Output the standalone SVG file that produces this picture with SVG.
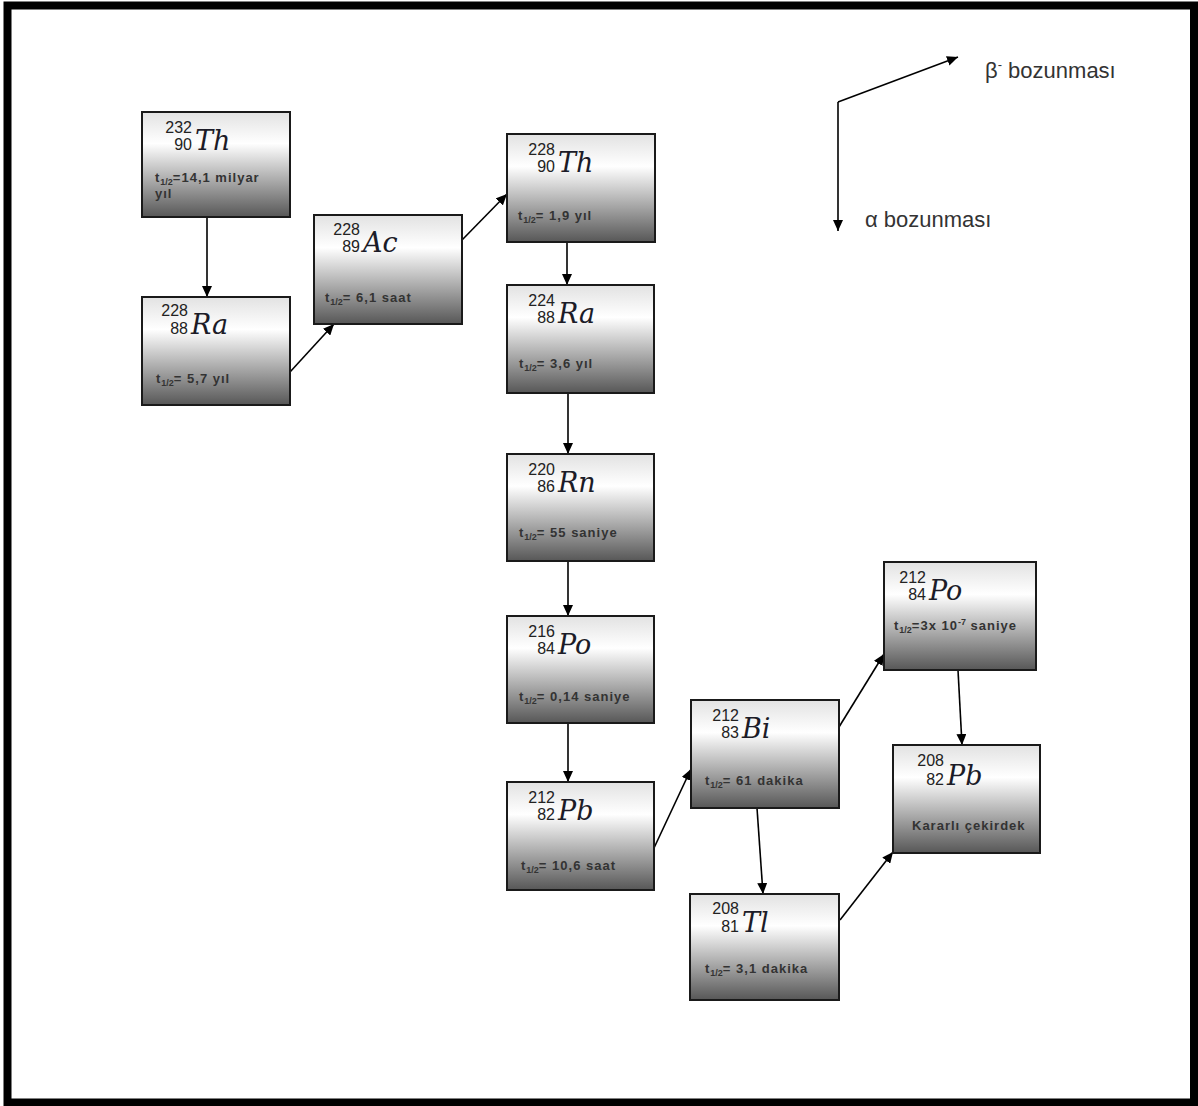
<svg xmlns="http://www.w3.org/2000/svg" width="1198" height="1106" viewBox="0 0 1198 1106">
<style>
.box{fill:url(#g);stroke:#1a1a1a;stroke-width:2}
.A,.Z{font-family:"Liberation Sans",Arial,sans-serif;font-size:16px;fill:#222;text-anchor:end}
.sym{font-family:"DejaVu Serif",serif;font-style:italic;font-size:27px;fill:#1c1c28}
.hl{font-family:"Liberation Sans",Arial,sans-serif;font-size:13px;font-weight:bold;fill:#333;letter-spacing:1px}
.sub{font-size:9px;letter-spacing:0}
.con{stroke:#000;stroke-width:1.6;fill:none;marker-end:url(#ah)}
.leg{font-family:"Liberation Sans",Arial,sans-serif;font-size:22px;fill:#333}
</style>
<defs>
<linearGradient id="g" x1="0" y1="0" x2="0" y2="1">
<stop offset="0" stop-color="#e2e2e2"/>
<stop offset="0.3" stop-color="#ffffff"/>
<stop offset="1" stop-color="#575757"/>
</linearGradient>
<marker id="ah" markerUnits="userSpaceOnUse" markerWidth="12" markerHeight="10" refX="11" refY="5" orient="auto">
<path d="M0,0 L11,5 L0,10 z" fill="#000"/>
</marker>
</defs>
<rect x="0" y="0" width="1198" height="1106" fill="#fff"/>
<rect x="7.5" y="5.5" width="1186.5" height="1097" fill="none" stroke="#000" stroke-width="8"/>

<g id="connectors">
<path class="con" d="M207,217 L207,297"/>
<path class="con" d="M290,372 L334,324"/>
<path class="con" d="M462,240 L507,194"/>
<path class="con" d="M567,242 L567,285"/>
<path class="con" d="M568,393 L568,454"/>
<path class="con" d="M568,561 L568,616"/>
<path class="con" d="M568,723 L568,782"/>
<path class="con" d="M654,848 L691,769"/>
<path class="con" d="M839,727 L884,654"/>
<path class="con" d="M757,808 L763,894"/>
<path class="con" d="M958,670 L962,745"/>
<path class="con" d="M840,920 L893,852"/>
<path class="con" d="M838,102 L838,231"/>
<path class="con" d="M838,102 L958,57"/>
</g>

<g id="legend">
<text class="leg" x="985" y="78">β<tspan font-size="13px" dy="-9">-</tspan><tspan dy="9"> bozunması</tspan></text>
<text class="leg" x="865" y="227">α bozunması</text>
</g>

<g id="th232">
<rect class="box" x="142" y="112" width="148" height="105"/>
<text class="A" x="192" y="133">232</text>
<text class="Z" x="192" y="150">90</text>
<text class="sym" x="195" y="150">Th</text>
<text class="hl" x="155" y="182">t<tspan class="sub" dy="3">1/2</tspan><tspan dy="-3">=14,1 milyar</tspan></text>
<text class="hl" x="155" y="198">yıl</text>
</g>

<g id="ra228">
<rect class="box" x="142" y="297" width="148" height="108"/>
<text class="A" x="188" y="316">228</text>
<text class="Z" x="188" y="334">88</text>
<text class="sym" x="191" y="334">Ra</text>
<text class="hl" x="156" y="383">t<tspan class="sub" dy="3">1/2</tspan><tspan dy="-3">= 5,7 yıl</tspan></text>
</g>

<g id="ac228">
<rect class="box" x="314" y="215" width="148" height="109"/>
<text class="A" x="360" y="235">228</text>
<text class="Z" x="360" y="252">89</text>
<text class="sym" x="363" y="252">Ac</text>
<text class="hl" x="325" y="302">t<tspan class="sub" dy="3">1/2</tspan><tspan dy="-3">= 6,1 saat</tspan></text>
</g>

<g id="th228">
<rect class="box" x="507" y="134" width="148" height="108"/>
<text class="A" x="555" y="155">228</text>
<text class="Z" x="555" y="172">90</text>
<text class="sym" x="558" y="172">Th</text>
<text class="hl" x="518" y="220">t<tspan class="sub" dy="3">1/2</tspan><tspan dy="-3">= 1,9 yıl</tspan></text>
</g>

<g id="ra224">
<rect class="box" x="507" y="285" width="147" height="108"/>
<text class="A" x="555" y="306">224</text>
<text class="Z" x="555" y="323">88</text>
<text class="sym" x="558" y="323">Ra</text>
<text class="hl" x="519" y="368">t<tspan class="sub" dy="3">1/2</tspan><tspan dy="-3">= 3,6 yıl</tspan></text>
</g>

<g id="rn220">
<rect class="box" x="507" y="454" width="147" height="107"/>
<text class="A" x="555" y="475">220</text>
<text class="Z" x="555" y="492">86</text>
<text class="sym" x="558" y="492">Rn</text>
<text class="hl" x="519" y="537">t<tspan class="sub" dy="3">1/2</tspan><tspan dy="-3">= 55 saniye</tspan></text>
</g>

<g id="po216">
<rect class="box" x="507" y="616" width="147" height="107"/>
<text class="A" x="555" y="637">216</text>
<text class="Z" x="555" y="654">84</text>
<text class="sym" x="558" y="654">Po</text>
<text class="hl" x="519" y="701">t<tspan class="sub" dy="3">1/2</tspan><tspan dy="-3">= 0,14 saniye</tspan></text>
</g>

<g id="pb212">
<rect class="box" x="507" y="782" width="147" height="108"/>
<text class="A" x="555" y="803">212</text>
<text class="Z" x="555" y="820">82</text>
<text class="sym" x="558" y="820">Pb</text>
<text class="hl" x="521" y="870">t<tspan class="sub" dy="3">1/2</tspan><tspan dy="-3">= 10,6 saat</tspan></text>
</g>

<g id="bi212">
<rect class="box" x="691" y="700" width="148" height="108"/>
<text class="A" x="739" y="721">212</text>
<text class="Z" x="739" y="738">83</text>
<text class="sym" x="742" y="738">Bi</text>
<text class="hl" x="705" y="785">t<tspan class="sub" dy="3">1/2</tspan><tspan dy="-3">= 61 dakika</tspan></text>
</g>

<g id="tl208">
<rect class="box" x="690" y="894" width="149" height="106"/>
<text class="A" x="739" y="914">208</text>
<text class="Z" x="739" y="932">81</text>
<text class="sym" x="742" y="932">Tl</text>
<text class="hl" x="705" y="973">t<tspan class="sub" dy="3">1/2</tspan><tspan dy="-3">= 3,1 dakika</tspan></text>
</g>

<g id="po212">
<rect class="box" x="884" y="562" width="152" height="108"/>
<text class="A" x="926" y="583">212</text>
<text class="Z" x="926" y="600">84</text>
<text class="sym" x="929" y="600">Po</text>
<text class="hl" x="894" y="630">t<tspan class="sub" dy="3">1/2</tspan><tspan dy="-3">=3x 10</tspan><tspan class="sub" dy="-5">-7</tspan><tspan dy="5"> saniye</tspan></text>
</g>

<g id="pb208">
<rect class="box" x="893" y="745" width="147" height="108"/>
<text class="A" x="944" y="766">208</text>
<text class="Z" x="944" y="785">82</text>
<text class="sym" x="947" y="785">Pb</text>
<text class="hl" x="912" y="830">Kararlı çekirdek</text>
</g>
</svg>
